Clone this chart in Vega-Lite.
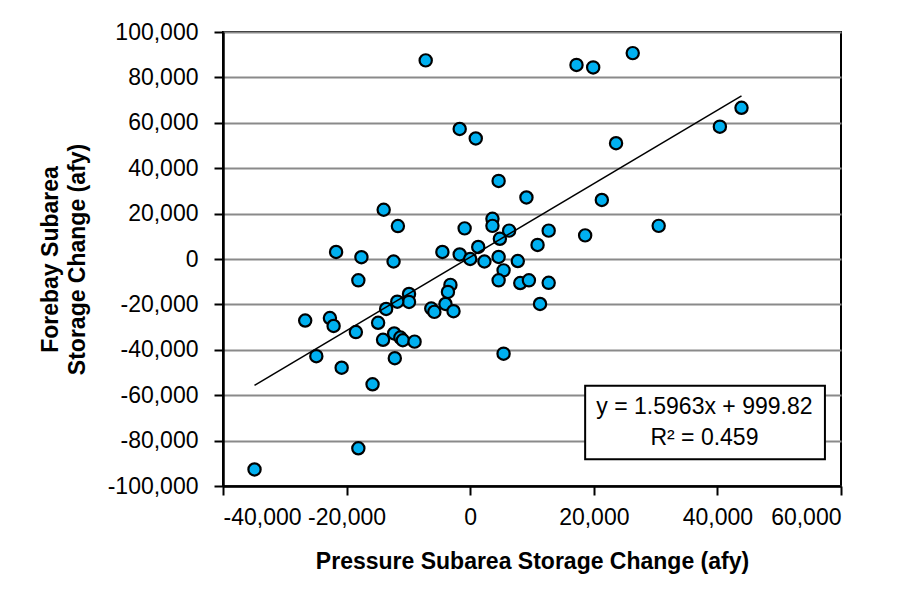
{
  "$schema": "https://vega.github.io/schema/vega-lite/v6.json",
  "width": 618,
  "height": 454,
  "autosize": {"type": "none"},
  "padding": {"left": 223, "top": 32, "right": 68, "bottom": 119},
  "background": "white",
  "config": {
    "view": {"stroke": "black", "strokeWidth": 2},
    "font": "Liberation Sans",
    "axis": {
      "labelFont": "Liberation Sans",
      "labelFontSize": 23,
      "labelColor": "black",
      "titleFont": "Liberation Sans",
      "titleFontSize": 23,
      "titleFontWeight": "bold",
      "titleColor": "black",
      "domainColor": "black",
      "domainWidth": 2.5,
      "tickColor": "black",
      "tickWidth": 2,
      "tickSize": 9
    }
  },
  "data": {
    "values": [
      {"pressure": -7200, "forebay": 87500},
      {"pressure": 17200, "forebay": 85500},
      {"pressure": 19900, "forebay": 84400},
      {"pressure": 26300, "forebay": 90700},
      {"pressure": 43900, "forebay": 66600},
      {"pressure": 40400, "forebay": 58300},
      {"pressure": 23600, "forebay": 51000},
      {"pressure": -1700, "forebay": 57300},
      {"pressure": 900, "forebay": 53100},
      {"pressure": 4600, "forebay": 34400},
      {"pressure": 9100, "forebay": 27100},
      {"pressure": 21300, "forebay": 26000},
      {"pressure": 30500, "forebay": 14600},
      {"pressure": 18600, "forebay": 10400},
      {"pressure": -14000, "forebay": 21700},
      {"pressure": -11700, "forebay": 14500},
      {"pressure": 3600, "forebay": 17700},
      {"pressure": 3600, "forebay": 14600},
      {"pressure": -900, "forebay": 13500},
      {"pressure": 6300, "forebay": 12500},
      {"pressure": 12700, "forebay": 12500},
      {"pressure": 4800, "forebay": 8900},
      {"pressure": 10900, "forebay": 6200},
      {"pressure": 1300, "forebay": 5300},
      {"pressure": -21700, "forebay": 3100},
      {"pressure": -17600, "forebay": 800},
      {"pressure": -4500, "forebay": 3100},
      {"pressure": -1700, "forebay": 2000},
      {"pressure": 4600, "forebay": 900},
      {"pressure": 0, "forebay": 0},
      {"pressure": 2300, "forebay": -1100},
      {"pressure": 7700, "forebay": -900},
      {"pressure": -12400, "forebay": -1100},
      {"pressure": 5400, "forebay": -5000},
      {"pressure": 4600, "forebay": -9400},
      {"pressure": 8100, "forebay": -10600},
      {"pressure": 9500, "forebay": -9400},
      {"pressure": 12700, "forebay": -10500},
      {"pressure": -18100, "forebay": -9400},
      {"pressure": -3200, "forebay": -11400},
      {"pressure": -3600, "forebay": -14500},
      {"pressure": -4000, "forebay": -19800},
      {"pressure": -9900, "forebay": -15400},
      {"pressure": -9900, "forebay": -18900},
      {"pressure": -11800, "forebay": -18800},
      {"pressure": -13600, "forebay": -22000},
      {"pressure": -6300, "forebay": -21800},
      {"pressure": -5800, "forebay": -23300},
      {"pressure": -2700, "forebay": -23000},
      {"pressure": 11300, "forebay": -19800},
      {"pressure": -26700, "forebay": -27100},
      {"pressure": -22700, "forebay": -26000},
      {"pressure": -22100, "forebay": -29500},
      {"pressure": -14900, "forebay": -28100},
      {"pressure": -18500, "forebay": -32200},
      {"pressure": -12300, "forebay": -32800},
      {"pressure": -11300, "forebay": -34600},
      {"pressure": -10900, "forebay": -35800},
      {"pressure": -14100, "forebay": -35600},
      {"pressure": -9000, "forebay": -36400},
      {"pressure": -24900, "forebay": -42800},
      {"pressure": -12200, "forebay": -43700},
      {"pressure": 5400, "forebay": -41700},
      {"pressure": -20800, "forebay": -47900},
      {"pressure": -15800, "forebay": -55200},
      {"pressure": -18100, "forebay": -83400},
      {"pressure": -34900, "forebay": -92700}
    ]
  },
  "layer": [
    {
      "mark": {"type": "circle", "fill": "#00B0F0", "stroke": "black", "strokeWidth": 2.2, "size": 150, "opacity": 1},
      "encoding": {
        "x": {
          "field": "pressure",
          "type": "quantitative",
          "scale": {"domain": [-40000, 60000], "nice": false, "zero": false},
          "axis": {
            "title": "Pressure Subarea Storage Change (afy)",
            "values": [-40000, -20000, 0, 20000, 40000, 60000],
            "grid": false,
            "labelPadding": 11,
            "titlePadding": 21,
            "labelExpr": "replace(format(datum.value, ','), '\u2212', '-')"
          }
        },
        "y": {
          "field": "forebay",
          "type": "quantitative",
          "scale": {"domain": [-100000, 100000], "nice": false, "zero": false},
          "axis": {
            "title": ["Forebay Subarea", "Storage Change (afy)"],
            "values": [-100000, -80000, -60000, -40000, -20000, 0, 20000, 40000, 60000, 80000, 100000],
            "grid": true,
            "gridColor": "#8a8a8a",
            "gridWidth": 2,
            "labelPadding": 16,
            "titlePadding": 18,
            "titleLineHeight": 27,
            "labelExpr": "replace(format(datum.value, ','), '\u2212', '-')"
          }
        }
      }
    },
    {
      "transform": [{"regression": "forebay", "on": "pressure"}],
      "mark": {"type": "line", "color": "black", "strokeWidth": 1.5},
      "encoding": {
        "x": {"field": "pressure", "type": "quantitative"},
        "y": {"field": "forebay", "type": "quantitative"}
      }
    },
    {
      "data": {"values": [{}]},
      "mark": {"type": "rect", "fill": "white", "stroke": "black", "strokeWidth": 2},
      "encoding": {
        "x": {"datum": 18600, "type": "quantitative"},
        "x2": {"datum": 57400},
        "y": {"datum": -55800, "type": "quantitative"},
        "y2": {"datum": -88200}
      }
    },
    {
      "data": {"values": [{}]},
      "mark": {"type": "text", "text": "y = 1.5963x + 999.82", "fontSize": 23, "font": "Liberation Sans", "color": "black", "align": "center", "baseline": "middle"},
      "encoding": {
        "x": {"datum": 37900, "type": "quantitative"},
        "y": {"datum": -65100, "type": "quantitative"}
      }
    },
    {
      "data": {"values": [{}]},
      "mark": {"type": "text", "text": "R\u00b2 = 0.459", "fontSize": 23, "font": "Liberation Sans", "color": "black", "align": "center", "baseline": "middle"},
      "encoding": {
        "x": {"datum": 37900, "type": "quantitative"},
        "y": {"datum": -79000, "type": "quantitative"}
      }
    }
  ]
}
